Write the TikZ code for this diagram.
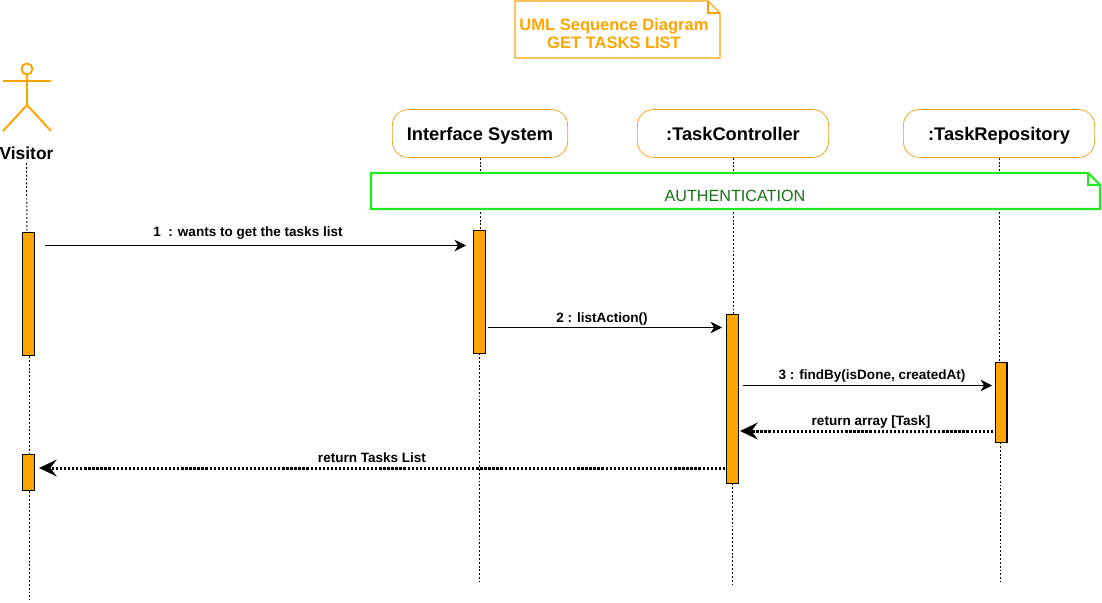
\documentclass[tikz,border=0pt]{standalone}
\usepackage{fontspec}
\setmainfont{Liberation Sans}
\usepackage{tikz}
\usetikzlibrary{arrows.meta}
\definecolor{umlorange}{RGB}{255,165,0}
\definecolor{umlgreen}{RGB}{30,235,30}
\definecolor{authgreen}{RGB}{20,115,20}
\tikzset{
    lifebox/.style={draw=umlorange!80!brown, rounded corners=9pt, minimum width=176*0.5669pt, minimum height=48*0.5669pt, text height=7.5pt, text depth=0pt, font=\bfseries\fontsize{10.4}{12}\selectfont},
    lifeline/.style={line width=0.55pt, dash pattern=on 1.1pt off 1.1pt},
    activebar/.style={draw=black, fill=umlorange, line width=0.6pt, minimum width=12*0.5669pt, inner sep=0pt},
    msg/.style={line width=0.5pt, -{Stealth[length=6.5pt, width=6.5pt, inset=2pt]}},
    msgback/.style={line width=1.7pt, dash pattern=on 1.3pt off 1pt, -{Stealth[length=10pt, width=9.5pt, inset=3.5pt]}},
    msglabel/.style={font=\bfseries\fontsize{7.7}{9}\selectfont, inner sep=0pt}
}
\begin{document}
\begin{tikzpicture}[x=0.02cm, y=-0.02cm]
    \useasboundingbox (0,0) rectangle (1102,602);

    % note with the title
    \draw[umlorange!90!brown, line width=0.6pt] (515,1) -- (708,1) -- (720,13) -- (720,58) -- (515,58) -- cycle;
    \draw[umlorange!90!brown, line width=0.6pt] (708,1) -- (708,13) -- (720,13);
    \node[text=umlorange, align=center, font=\bfseries\fontsize{9.4}{10.6}\selectfont] (title) at (614,33.5) {UML Sequence Diagram\\GET TASKS LIST};

    % actor
    \draw[umlorange, line width=1.1pt] (27,69) circle (5.5);
    \draw[umlorange, line width=1.1pt] (27,75) -- (27,105) (3,81) -- (51,81) (3,131) -- (27,105) -- (51,131);
    \node[font=\bfseries\fontsize{9.9}{11}\selectfont, inner sep=0pt] (visitor) at (26.5,153) {Visitor};

    % lifeline heads
    \node[lifebox] (interface) at (480,133.5) {Interface System};
    \node[lifebox, minimum width=192*0.5669pt] (controller) at (733,133.5) {:TaskController};
    \node[lifebox, minimum width=192*0.5669pt] (repository) at (999,133.5) {:TaskRepository};

    % lifeline ends
    \coordinate (visitorEnd) at (29,600);
    \coordinate (interfaceEnd) at (479,582);
    \coordinate (controllerEnd) at (732,586);
    \coordinate (repositoryEnd) at (1000,582);

    \draw[lifeline] (visitor) ++(0,10) -- (27,232);
    \draw[lifeline] (29,356) -- (29,454);
    \draw[lifeline] (29,491) -- (visitorEnd);
    \draw[lifeline] (interface) -- (480,231);
    \draw[lifeline] (479,353) -- (interfaceEnd);
    \draw[lifeline] (controller) -- (733,315);
    \draw[lifeline] (732,483) -- (controllerEnd);
    \draw[lifeline] (repository) -- (999,362);
    \draw[lifeline] (1000,442) -- (repositoryEnd);

    % authentication frame
    \draw[umlgreen, fill=white, line width=1.2pt] (371,173) -- (1088,173) -- (1100,185) -- (1100,209) -- (371,209) -- cycle;
    \draw[umlgreen, line width=0.6pt] (1088,173) -- (1088,185) -- (1100,185);
    \node[text=authgreen, font=\fontsize{9.2}{10}\selectfont] (auth) at (735,195.5) {AUTHENTICATION};

    % activation bars
    \node[activebar, minimum height=123*0.5669pt] (barA) at (28.5,294) {};
    \node[activebar, minimum height=123*0.5669pt] (barB) at (479.5,292) {};
    \node[activebar, minimum height=169*0.5669pt] (barC) at (732.5,399) {};
    \node[activebar, minimum height=80*0.5669pt] (barD) at (1001,402.5) {};
    \node[activebar, minimum height=37*0.5669pt] (barE) at (28.5,472.5) {};

    % message ends
    \coordinate (m1a) at (45,245.5);
    \coordinate (m1b) at (466,245.5);
    \coordinate (m2a) at (488,327.5);
    \coordinate (m2b) at (722,327.5);
    \coordinate (m3a) at (743,385.5);
    \coordinate (m3b) at (992,385.5);
    \coordinate (m4a) at (993,431);
    \coordinate (m4b) at (740,431);
    \coordinate (m5a) at (725,468);
    \coordinate (m5b) at (39,468);

    \draw[msg] (m1a) -- (m1b);
    \draw[msg] (m2a) -- (m2b);
    \draw[msg] (m3a) -- (m3b);
    \draw[msgback] (m4a) -- (m4b);
    \draw[msgback] (m5a) -- (m5b);

    \node[msglabel] (l1) at (248,233) {1\ \ : wants to get the tasks list};
    \node[msglabel] (l2) at (602,318.5) {2 : listAction()};
    \node[msglabel] (l3) at (872,376) {3 : findBy(isDone, createdAt)};
    \node[msglabel] (l4) at (871,421.5) {return array [Task]};
    \node[msglabel] (l5) at (372,458) {return Tasks List};
\end{tikzpicture}
\end{document}
